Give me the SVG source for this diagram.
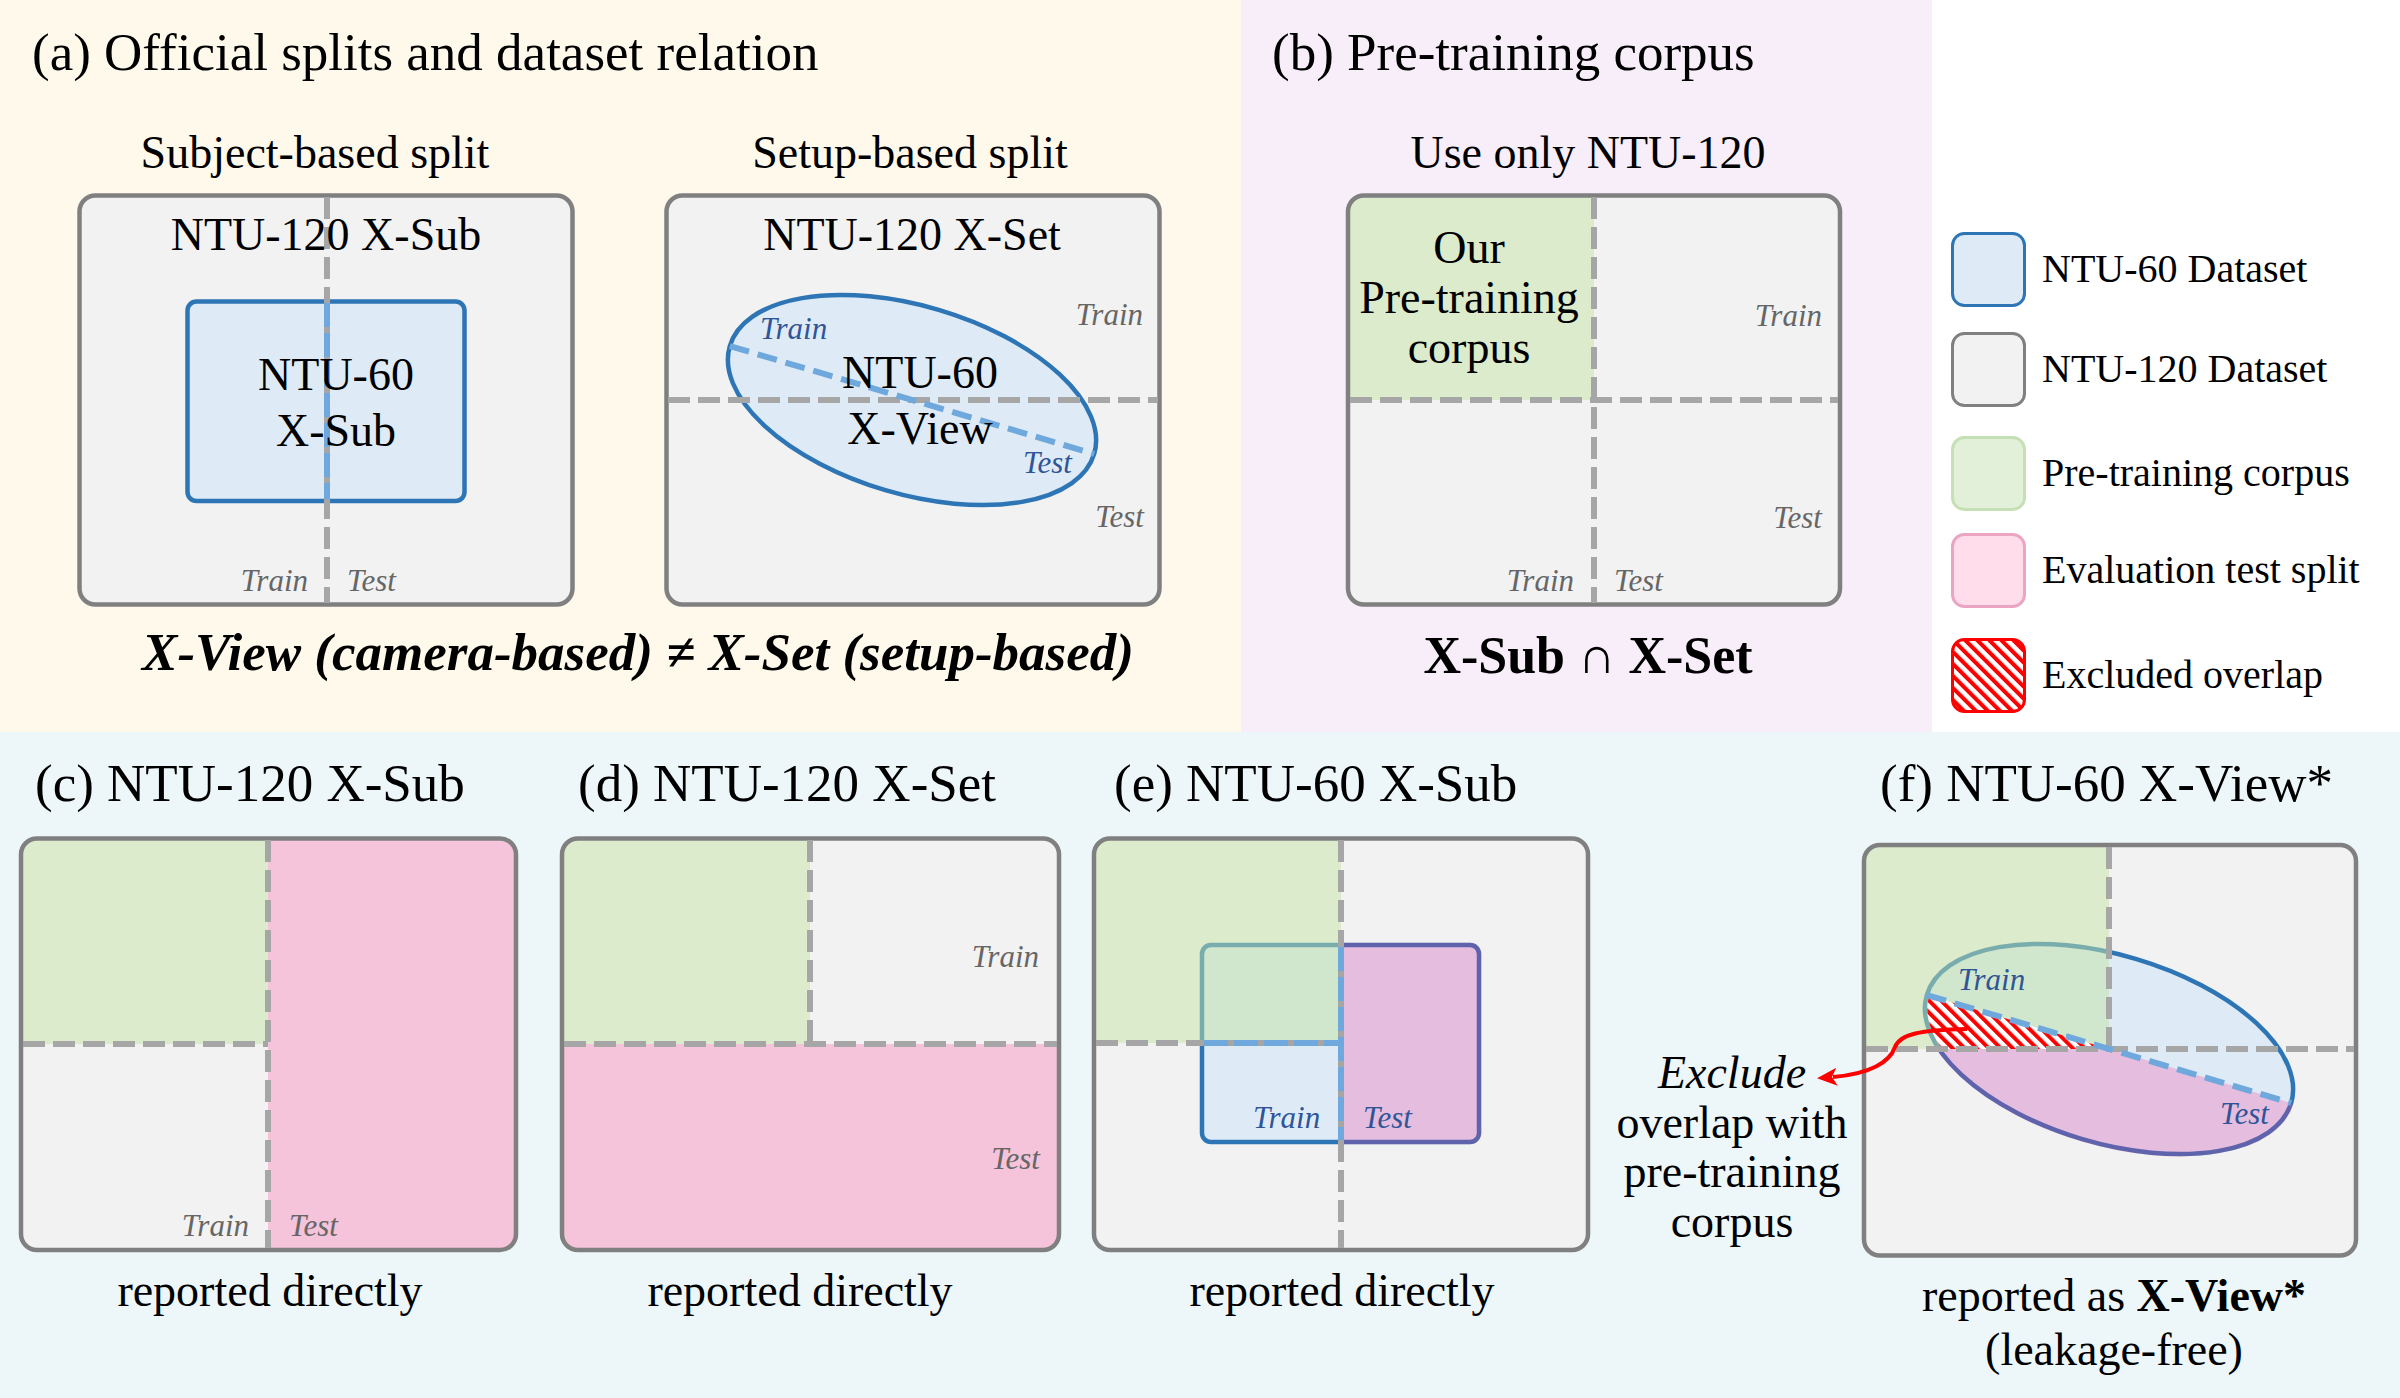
<svg xmlns="http://www.w3.org/2000/svg" width="2400" height="1398" viewBox="0 0 2400 1398">
<defs>
<style>
text { font-family: "Liberation Serif", "Times New Roman", serif; fill:#000; }
.t53 { font-size:53px; }
.t46 { font-size:46px; }
.t40 { font-size:40px; }
.lab { font-size:31px; font-style:italic; fill:#666666; }
.blab { font-size:31px; font-style:italic; fill:#2F5597; }
.c { text-anchor:middle; }
.e { text-anchor:end; }
.box { fill:#F2F2F2; }
.edge { fill:none; stroke:#808080; stroke-width:4.5; }
.dash { fill:none; stroke:#A6A6A6; stroke-width:6; stroke-dasharray:22 8; }
.bdash { fill:none; stroke:#6FA8DC; stroke-width:6; stroke-dasharray:20 9; }
.green { fill:#C4E4A4; fill-opacity:0.5; }
.pink { fill:#FF288C; fill-opacity:0.23; }
.ntu60 { fill:#DEEBF7; stroke:#2E75B6; stroke-width:4.5; }
.red { fill:none; stroke:#FF0000; stroke-width:4; }
</style>
<pattern id="hatch" width="8.5" height="8.5" patternUnits="userSpaceOnUse" patternTransform="rotate(-45)">
<rect x="0" y="0" width="8.5" height="8.5" fill="#FFFFFF"/>
<rect x="0" y="0" width="4" height="8.5" fill="#FF0000"/>
</pattern>
<marker id="arrowRed" viewBox="0 0 20 20" markerUnits="userSpaceOnUse" markerWidth="20" markerHeight="20" refX="4" refY="10" orient="auto">
<path d="M0,1 L20,10 L0,19 L5,10 Z" fill="#FF0000"/>
</marker>
<clipPath id="clipB"><rect x="1348" y="195.5" width="492" height="409" rx="16"/></clipPath>
<clipPath id="clipC"><rect x="21" y="838.5" width="495" height="411.5" rx="16"/></clipPath>
<clipPath id="clipD"><rect x="562" y="838.5" width="497" height="411.5" rx="16"/></clipPath>
<clipPath id="clipE"><rect x="1094" y="838.5" width="494" height="411.5" rx="16"/></clipPath>
<clipPath id="clipF"><rect x="1864" y="845" width="492" height="410.5" rx="16"/></clipPath>
<clipPath id="eRectOuter"><rect x="1199.75" y="942.75" width="281.5" height="201.5" rx="11"/></clipPath>
<clipPath id="fEllOuter"><ellipse transform="translate(2109 1049) rotate(16.5)" cx="0" cy="0" rx="192.5" ry="96.5"/></clipPath>
<clipPath id="fEllInner"><ellipse transform="translate(2109 1049) rotate(16.5)" cx="0" cy="0" rx="187.5" ry="91.5"/></clipPath>
<clipPath id="fPinkPoly"><polygon points="2109,1049 2400,1135.2 2400,1300 1800,1300 1800,1049"/></clipPath>
<clipPath id="fHatchPoly"><polygon points="1800,957.5 2109,1049 1800,1049"/></clipPath>
</defs>

<g id="backgrounds">
<rect x="0" y="0" width="1241" height="732" fill="#FEF9EB"/>
<rect x="1241" y="0" width="691" height="732" fill="#F7EEFA"/>
<rect x="1932" y="0" width="468" height="732" fill="#FFFFFF"/>
<rect x="0" y="732" width="2400" height="666" fill="#EDF7FA"/>
</g>

<g id="panel-a">
<text class="t53" x="32" y="70">(a) Official splits and dataset relation</text>
<text class="t46 c" x="315" y="168">Subject-based split</text>
<text class="t46 c" x="910" y="168">Setup-based split</text>
<text class="c" x="638" y="670" style="font-size:53px;font-weight:bold;font-style:italic">X-View (camera-based) ≠ X-Set (setup-based)</text>
</g>

<g id="node-a-xsub">
<rect class="box" x="79.5" y="195.5" width="493" height="409" rx="16"/>
<rect class="edge" x="79.5" y="195.5" width="493" height="409" rx="16"/>
<rect class="ntu60" x="187.5" y="301.5" width="277" height="199.5" rx="9"/>
<line class="dash" x1="327" y1="197" x2="327" y2="603"/>
<line class="bdash" x1="327" y1="303" x2="327" y2="499" style="stroke-dasharray:24 6"/>
<text class="t46 c" x="326" y="250">NTU-120 X-Sub</text>
<text class="t46 c" x="336" y="390">NTU-60</text>
<text class="t46 c" x="336" y="446">X-Sub</text>
<text class="lab e" x="308" y="591">Train</text>
<text class="lab" x="347" y="591">Test</text>
</g>

<g id="node-a-xset">
<rect class="box" x="666.5" y="195.5" width="493" height="409" rx="16"/>
<rect class="edge" x="666.5" y="195.5" width="493" height="409" rx="16"/>
<ellipse class="ntu60" transform="translate(912 400) rotate(16.5)" cx="0" cy="0" rx="190" ry="94"/>
<line class="dash" x1="668" y1="400" x2="1158" y2="400"/>
<line class="bdash" transform="translate(912 400) rotate(16.5)" x1="-190" y1="0" x2="190" y2="0"/>
<text class="t46 c" x="912" y="250">NTU-120 X-Set</text>
<text class="t46 c" x="920" y="388">NTU-60</text>
<text class="t46 c" x="920" y="444">X-View</text>
<text class="blab" x="760" y="339">Train</text>
<text class="blab" x="1023" y="473">Test</text>
<text class="lab e" x="1143" y="325">Train</text>
<text class="lab e" x="1144" y="527">Test</text>
</g>

<g id="panel-b">
<text class="t53" x="1272" y="70">(b) Pre-training corpus</text>
<text class="t46 c" x="1588" y="168">Use only NTU-120</text>
<text class="c" x="1588" y="673" style="font-size:52px;font-weight:bold">X-Sub ∩ X-Set</text>
</g>

<g id="node-b-corpus">
<rect class="box" x="1348" y="195.5" width="492" height="409" rx="16"/>
<rect class="green" x="1348" y="195.5" width="246" height="204.5" clip-path="url(#clipB)"/>
<rect class="edge" x="1348" y="195.5" width="492" height="409" rx="16"/>
<line class="dash" x1="1594" y1="197" x2="1594" y2="603"/>
<line class="dash" x1="1350" y1="400" x2="1838" y2="400"/>
<text class="t46 c" x="1469" y="263">Our</text>
<text class="t46 c" x="1469" y="313">Pre-training</text>
<text class="t46 c" x="1469" y="363">corpus</text>
<text class="lab e" x="1822" y="326">Train</text>
<text class="lab e" x="1822" y="528">Test</text>
<text class="lab e" x="1574" y="591">Train</text>
<text class="lab" x="1614" y="591">Test</text>
</g>

<g id="legend">
<g id="legend-ntu60">
<rect x="1952.5" y="233.5" width="72" height="72" rx="12" fill="#DEEBF7" stroke="#2E75B6" stroke-width="3"/>
<text class="t40" x="2042" y="282">NTU-60 Dataset</text>
</g>
<g id="legend-ntu120">
<rect x="1952.5" y="333.5" width="72" height="72" rx="12" fill="#F2F2F2" stroke="#808080" stroke-width="3"/>
<text class="t40" x="2042" y="382">NTU-120 Dataset</text>
</g>
<g id="legend-corpus">
<rect x="1952.5" y="437.5" width="72" height="72" rx="12" fill="#E2F0D9" stroke="#C5E0B4" stroke-width="3"/>
<text class="t40" x="2042" y="486">Pre-training corpus</text>
</g>
<g id="legend-test">
<rect x="1952.5" y="534.5" width="72" height="72" rx="12" fill="#FFDDEA" stroke="#EBA5C3" stroke-width="3"/>
<text class="t40" x="2042" y="583">Evaluation test split</text>
</g>
<g id="legend-excluded">
<rect x="1952.5" y="639.5" width="72" height="72" rx="12" fill="url(#hatch)" stroke="#FF0000" stroke-width="3"/>
<text class="t40" x="2042" y="688">Excluded overlap</text>
</g>
</g>

<g id="node-c">
<text class="t53" x="35" y="801">(c) NTU-120 X-Sub</text>
<rect class="box" x="21" y="838.5" width="495" height="411.5" rx="16"/>
<g clip-path="url(#clipC)">
<rect class="green" x="21" y="838.5" width="247" height="205.5"/>
<rect class="pink" x="268" y="838.5" width="248" height="411.5"/>
</g>
<rect class="edge" x="21" y="838.5" width="495" height="411.5" rx="16"/>
<line class="dash" x1="268" y1="840" x2="268" y2="1248"/>
<line class="dash" x1="23" y1="1044" x2="268" y2="1044"/>
<text class="lab e" x="249" y="1236">Train</text>
<text class="lab" x="289" y="1236">Test</text>
<text class="t46 c" x="270" y="1306">reported directly</text>
</g>

<g id="node-d">
<text class="t53" x="578" y="801">(d) NTU-120 X-Set</text>
<rect class="box" x="562" y="838.5" width="497" height="411.5" rx="16"/>
<g clip-path="url(#clipD)">
<rect class="green" x="562" y="838.5" width="248" height="205.5"/>
<rect class="pink" x="562" y="1044" width="497" height="206"/>
</g>
<rect class="edge" x="562" y="838.5" width="497" height="411.5" rx="16"/>
<line class="dash" x1="564" y1="1044" x2="1057" y2="1044"/>
<line class="dash" x1="810" y1="840" x2="810" y2="1044"/>
<text class="lab e" x="1039" y="967">Train</text>
<text class="lab e" x="1040" y="1169">Test</text>
<text class="t46 c" x="800" y="1306">reported directly</text>
</g>

<g id="node-e">
<text class="t53" x="1114" y="801">(e) NTU-60 X-Sub</text>
<rect class="box" x="1094" y="838.5" width="494" height="411.5" rx="16"/>
<rect class="ntu60" x="1202" y="945" width="277" height="197" rx="9"/>
<rect class="pink" x="1341" y="940" width="145" height="208" clip-path="url(#eRectOuter)"/>
<rect class="green" x="1094" y="838.5" width="247" height="204.5" clip-path="url(#clipE)"/>
<rect class="edge" x="1094" y="838.5" width="494" height="411.5" rx="16"/>
<line class="dash" x1="1341" y1="840" x2="1341" y2="1248"/>
<line class="dash" x1="1096" y1="1043" x2="1341" y2="1043"/>
<line class="bdash" x1="1341" y1="947" x2="1341" y2="1140" style="stroke-dasharray:24 6"/>
<line class="bdash" x1="1204" y1="1043" x2="1341" y2="1043" style="stroke-dasharray:24 6"/>
<text class="blab" x="1253" y="1128">Train</text>
<text class="blab" x="1363" y="1128">Test</text>
<text class="t46 c" x="1342" y="1306">reported directly</text>
</g>

<g id="node-exclude-note">
<text class="t46 c" x="1732" y="1088" style="font-style:italic">Exclude</text>
<text class="t46 c" x="1732" y="1138">overlap with</text>
<text class="t46 c" x="1732" y="1187">pre-training</text>
<text class="t46 c" x="1732" y="1237">corpus</text>
</g>

<g id="node-f">
<text class="t53" x="1880" y="801">(f) NTU-60 X-View*</text>
<rect class="box" x="1864" y="845" width="492" height="410.5" rx="16"/>
<ellipse class="ntu60" transform="translate(2109 1049) rotate(16.5)" cx="0" cy="0" rx="190" ry="94"/>
<g clip-path="url(#fPinkPoly)"><g clip-path="url(#fEllOuter)"><rect class="pink" x="1850" y="900" width="520" height="300"/></g></g>
<rect class="green" x="1864" y="845" width="245" height="204" clip-path="url(#clipF)"/>
<g clip-path="url(#fHatchPoly)"><g clip-path="url(#fEllInner)"><rect x="1850" y="900" width="300" height="200" fill="url(#hatch)"/></g></g>
<rect class="edge" x="1864" y="845" width="492" height="410.5" rx="16"/>
<line class="dash" x1="1866" y1="1049" x2="2354" y2="1049"/>
<line class="dash" x1="2109" y1="847" x2="2109" y2="1049"/>
<line class="bdash" transform="translate(2109 1049) rotate(16.5)" x1="-190" y1="0" x2="190" y2="0"/>
<text class="blab" x="1958" y="990">Train</text>
<text class="blab" x="2220" y="1124">Test</text>
<text class="t46 c" x="2114" y="1311">reported as <tspan style="font-weight:bold">X-View*</tspan></text>
<text class="t46 c" x="2114" y="1365">(leakage-free)</text>
</g>

<g id="connectors">
<path class="red" d="M1967,1029 C1920,1030 1900,1034 1895,1047 C1890,1062 1870,1074 1833,1077" marker-end="url(#arrowRed)"/>
</g>
</svg>
